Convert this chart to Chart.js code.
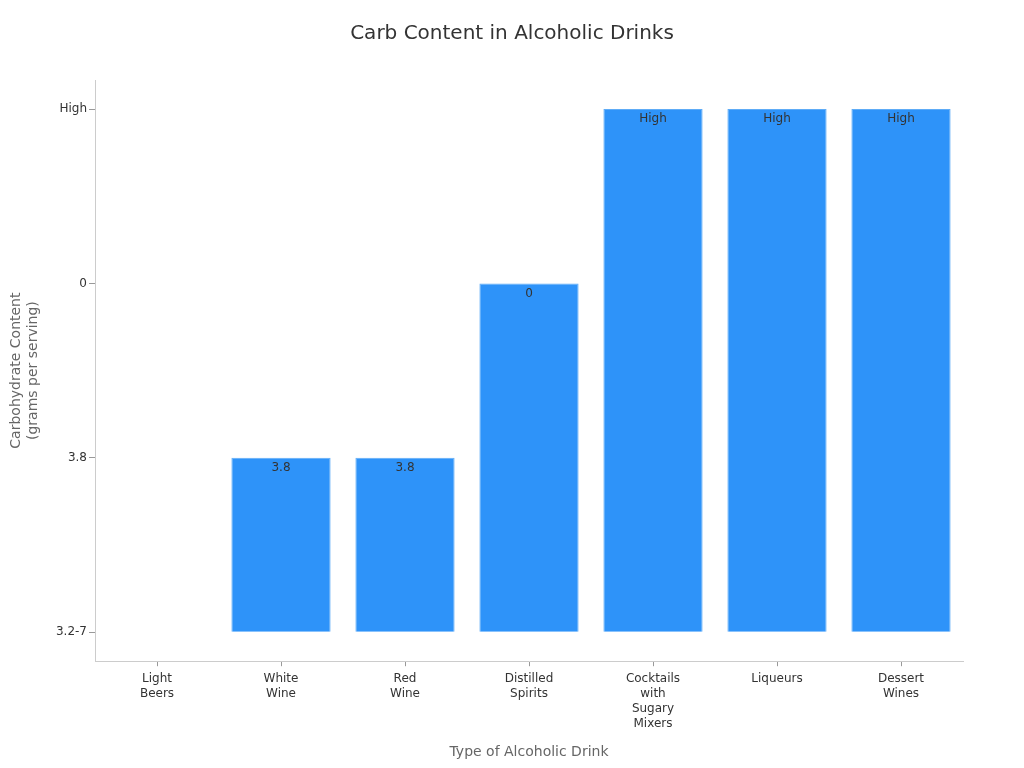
<!DOCTYPE html>
<html>
<head>
<meta charset="utf-8">
<script src="https://cdn.jsdelivr.net/npm/chart.js@4/dist/chart.umd.min.js"></script>
<style>
  html, body { margin: 0; padding: 0; background: #fff; }
  #wrap { width: 1024px; height: 768px; }
</style>
</head>
<body>
<div id="wrap"><canvas id="chart"></canvas></div>
<script>
// Données
const chartTitle = "Carb Content in Alcoholic Drinks";
const drinks = [
  ["Light", "Beers"],
  ["White", "Wine"],
  ["Red", "Wine"],
  ["Distilled", "Spirits"],
  ["Cocktails", "with", "Sugary", "Mixers"],
  ["Liqueurs"],
  ["Dessert", "Wines"],
];
const levels = ["3.2-7", "3.8", "0", "High"];
const carbs = ["3.2-7", "3.8", "3.8", "0", "High", "High", "High"];

// Título centrado na página inteira
const pageTitle = {
  id: "pageTitle",
  afterDraw(chart) {
    const ctx = chart.ctx;
    ctx.save();
    ctx.font = "20px 'DejaVu Sans'";
    ctx.fillStyle = "#333";
    ctx.textAlign = "center";
    ctx.textBaseline = "middle";
    ctx.fillText(chartTitle, chart.width / 2, 34);
    ctx.restore();
  },
};

// Rótulos dentro das barras
const barLabels = {
  id: "barLabels",
  afterDatasetsDraw(chart) {
    const ctx = chart.ctx;
    const meta = chart.getDatasetMeta(0);
    ctx.save();
    ctx.font = "12px 'DejaVu Sans'";
    ctx.fillStyle = "#333";
    ctx.textAlign = "center";
    ctx.textBaseline = "middle";
    meta.data.forEach((bar, i) => {
      if (Math.abs(bar.base - bar.y) < 2) return;
      ctx.fillText(carbs[i], bar.x, bar.y + 10);
    });
    ctx.restore();
  },
};

Chart.defaults.font.family = "'DejaVu Sans', sans-serif";

new Chart(document.getElementById("chart"), {
  type: "bar",
  data: {
    labels: drinks,
    datasets: [
      {
        data: carbs.map((c) => levels.indexOf(c)),
        backgroundColor: "#2e93f9",
        borderColor: "#5eacf7",
        borderWidth: 1,
        barPercentage: 1,
        categoryPercentage: 0.8,
      },
    ],
  },
  options: {
    responsive: true,
    maintainAspectRatio: false,
    animation: false,
    layout: { padding: { top: 80, right: 61, left: 4, bottom: 0 } },
    plugins: {
      legend: { display: false },
      tooltip: { enabled: false },
      title: { display: false },
    },
    scales: {
      x: {
        border: { color: "#ccc" },
        grid: { drawOnChartArea: false, offset: false, color: "#999", tickLength: 5 },
        ticks: {
          color: "#333",
          font: { size: 12, lineHeight: 1.25 },
          maxRotation: 0,
          padding: 5,
        },
        title: {
          display: true,
          text: "Type of Alcoholic Drink",
          color: "#666",
          font: { size: 14 },
          padding: { top: 8, bottom: 7 },
        },
      },
      y: {
        min: -1 / 6,
        max: 3 + 1 / 6,
        afterBuildTicks: (axis) => {
          axis.ticks = levels.map((_, i) => ({ value: i }));
        },
        afterFit: (axis) => {
          axis.width = 91;
        },
        border: { color: "#ccc" },
        grid: { drawOnChartArea: false, color: "#999", tickLength: 6 },
        ticks: {
          color: "#333",
          font: { size: 12 },
          padding: 2,
          callback: (v) => levels[v],
        },
        title: {
          display: true,
          text: ["Carbohydrate Content", "(grams per serving)"],
          color: "#666",
          font: { size: 14 },
          padding: { bottom: 20 },
        },
      },
    },
  },
  plugins: [barLabels, pageTitle],
});
</script>
</body>
</html>
